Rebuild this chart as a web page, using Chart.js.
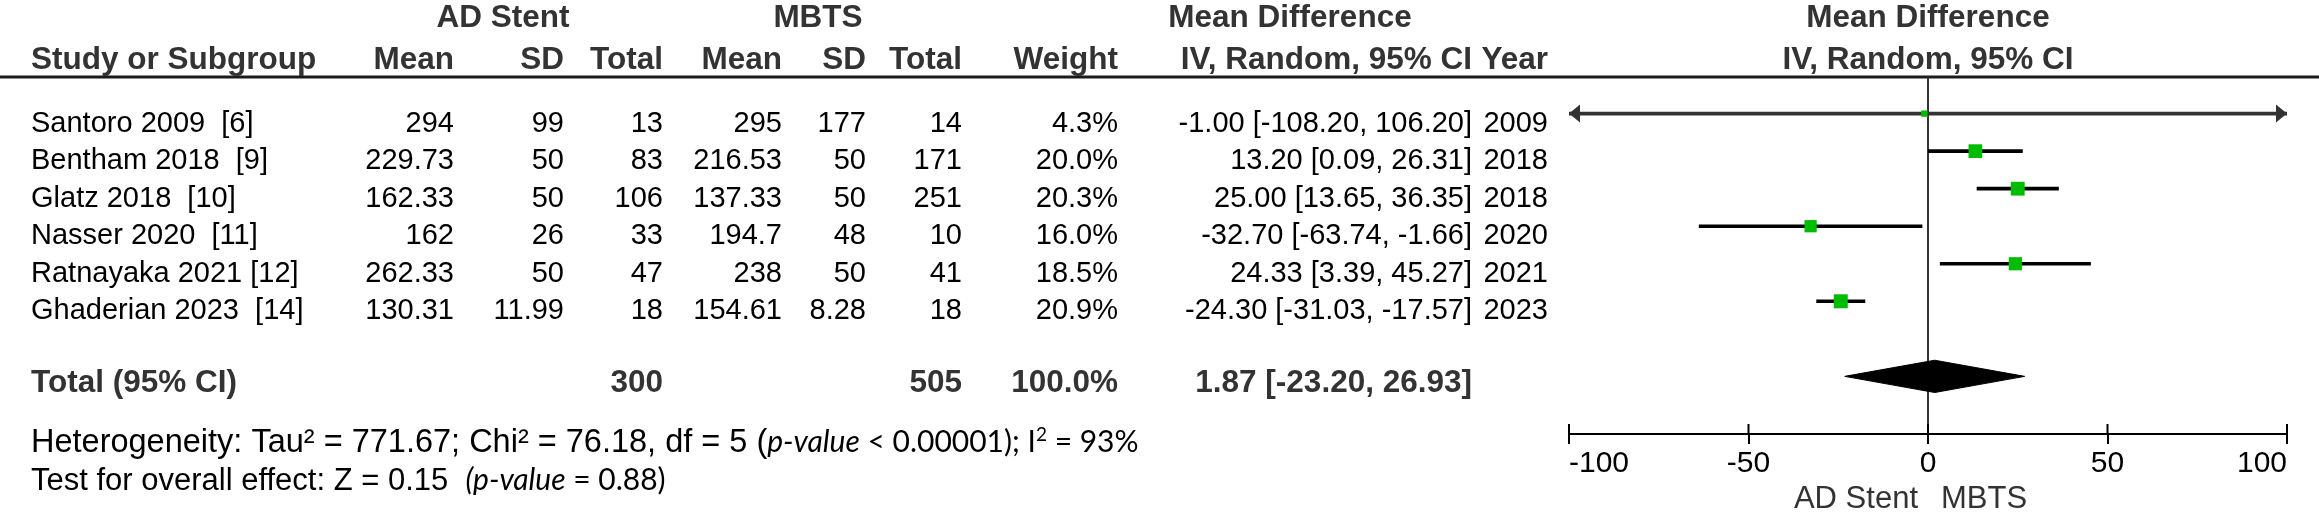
<!DOCTYPE html>
<html><head><meta charset="utf-8">
<script src="https://cdn.jsdelivr.net/npm/chart.js@4.4.1/dist/chart.umd.min.js"></script>
<style>html,body{margin:0;padding:0;background:#fff;overflow:hidden}#wrap{width:2319px;height:513px}</style>
</head><body><div id="wrap"><canvas id="c" width="2319" height="513"></canvas></div>
<script>
// ---------- data ----------
const studies  = ['Santoro 2009  [6]', 'Bentham 2018  [9]', 'Glatz 2018  [10]', 'Nasser 2020  [11]', 'Ratnayaka 2021 [12]', 'Ghaderian 2023  [14]'];
const adMean   = [294, 229.73, 162.33, 162, 262.33, 130.31];
const adSD     = [99, 50, 50, 26, 50, 11.99];
const adTotal  = [13, 83, 106, 33, 47, 18];
const mbMean   = [295, 216.53, 137.33, 194.7, 238, 154.61];
const mbSD     = [177, 50, 50, 48, 50, 8.28];
const mbTotal  = [14, 171, 251, 10, 41, 18];
const weights  = [4.3, 20.0, 20.3, 16.0, 18.5, 20.9];
const md       = [-1.00, 13.20, 25.00, -32.70, 24.33, -24.30];
const ciLow    = [-108.20, 0.09, 13.65, -63.74, 3.39, -31.03];
const ciHigh   = [106.20, 26.31, 36.35, -1.66, 45.27, -17.57];
const years    = [2009, 2018, 2018, 2020, 2021, 2023];
const totalAD = 300, totalMB = 505, totalWeight = 100.0;
const totalMD = 1.87, totalLow = -23.20, totalHigh = 26.93;
const xTicks   = [-100, -50, 0, 50, 100];
const groupA = 'AD Stent', groupB = 'MBTS';
const hetText  = ['Heterogeneity: Tau² = 771.67; Chi² = 76.18, df = 5 (', 'p-value', ' < 0.00001); I', '2', ' = 93%'];
const testText = ['Test for overall effect: Z = 0.15  ', '(p-value', ' = 0.88)'];

// ---------- layout / style ----------
const F = '"Liberation Sans", Arial, sans-serif';
const F2 = 'Lato, "Open Sans", sans-serif';
const HEAD = '#333333';
const COL = {name: 31, adMean: 454, adSD: 564, adTotal: 663, mbMean: 782, mbSD: 866, mbTotal: 962, weight: 1118, ci: 1472, year: 1548};
const TOTAL_ROW = 7;
const rows = studies.map((_, i) => i);
const fmt2 = v => v.toFixed(2);

function txt(ctx, s, x, y, align, font, color) {
  ctx.font = font; ctx.fillStyle = color || '#000'; ctx.textAlign = align; ctx.textBaseline = 'alphabetic';
  ctx.fillText(s, x, y);
}
function rich(ctx, x, y, segs) {
  ctx.textAlign = 'left'; ctx.textBaseline = 'alphabetic';
  for (const s of segs) {
    ctx.font = s.font; ctx.fillStyle = s.color || '#000';
    ctx.fillText(s.t, x, y + (s.dy || 0));
    x += ctx.measureText(s.t).width;
  }
}

const tablePlugin = {
  id: 'table',
  beforeDatasetsDraw(chart) {
    const ctx = chart.ctx, xs = chart.scales.x, ca = chart.chartArea;
    const x0 = xs.getPixelForValue(0);
    ctx.save();
    ctx.strokeStyle = '#1a1a1a'; ctx.lineWidth = 3;
    ctx.beginPath(); ctx.moveTo(0, ca.top); ctx.lineTo(2319, ca.top); ctx.stroke();
    ctx.strokeStyle = '#333'; ctx.lineWidth = 2;
    ctx.beginPath(); ctx.moveTo(x0, ca.top); ctx.lineTo(x0, ca.bottom); ctx.stroke();
    ctx.strokeStyle = '#000';
    xTicks.forEach(v => { const p = xs.getPixelForValue(v); ctx.beginPath(); ctx.moveTo(p, ca.bottom - 10); ctx.lineTo(p, ca.bottom); ctx.stroke(); });
    ctx.restore();
  },
  afterDraw(chart) {
    const ctx = chart.ctx, xs = chart.scales.x, ys = chart.scales.y, ca = chart.chartArea;
    const x0 = xs.getPixelForValue(0);
    const B = 'bold 31.5px ' + F, R = '29px ' + F;
    ctx.save();
    txt(ctx, groupA, 503, 27, 'center', B, HEAD);
    txt(ctx, groupB, 818, 27, 'center', B, HEAD);
    txt(ctx, 'Mean Difference', 1290, 27, 'center', B, HEAD);
    txt(ctx, 'Mean Difference', x0, 27, 'center', B, HEAD);
    const hy = 69;
    txt(ctx, 'Study or Subgroup', COL.name, hy, 'left', B, HEAD);
    txt(ctx, 'Mean', COL.adMean, hy, 'right', B, HEAD);
    txt(ctx, 'SD', COL.adSD, hy, 'right', B, HEAD);
    txt(ctx, 'Total', COL.adTotal, hy, 'right', B, HEAD);
    txt(ctx, 'Mean', COL.mbMean, hy, 'right', B, HEAD);
    txt(ctx, 'SD', COL.mbSD, hy, 'right', B, HEAD);
    txt(ctx, 'Total', COL.mbTotal, hy, 'right', B, HEAD);
    txt(ctx, 'Weight', COL.weight, hy, 'right', B, HEAD);
    txt(ctx, 'IV, Random, 95% CI', COL.ci, hy, 'right', B, HEAD);
    txt(ctx, 'Year', COL.year, hy, 'right', B, HEAD);
    txt(ctx, 'IV, Random, 95% CI', x0, hy, 'center', B, HEAD);
    rows.forEach(i => {
      const y = ys.getPixelForValue(i) + 18;
      txt(ctx, studies[i], COL.name, y, 'left', R);
      txt(ctx, String(adMean[i]), COL.adMean, y, 'right', R);
      txt(ctx, String(adSD[i]), COL.adSD, y, 'right', R);
      txt(ctx, String(adTotal[i]), COL.adTotal, y, 'right', R);
      txt(ctx, String(mbMean[i]), COL.mbMean, y, 'right', R);
      txt(ctx, String(mbSD[i]), COL.mbSD, y, 'right', R);
      txt(ctx, String(mbTotal[i]), COL.mbTotal, y, 'right', R);
      txt(ctx, weights[i].toFixed(1) + '%', COL.weight, y, 'right', R);
      txt(ctx, fmt2(md[i]) + ' [' + fmt2(ciLow[i]) + ', ' + fmt2(ciHigh[i]) + ']', COL.ci, y, 'right', R);
      txt(ctx, String(years[i]), COL.year, y, 'right', R);
    });
    const ty = ys.getPixelForValue(TOTAL_ROW) + 16;
    txt(ctx, 'Total (95% CI)', COL.name, ty, 'left', B, HEAD);
    txt(ctx, String(totalAD), COL.adTotal, ty, 'right', B, HEAD);
    txt(ctx, String(totalMB), COL.mbTotal, ty, 'right', B, HEAD);
    txt(ctx, totalWeight.toFixed(1) + '%', COL.weight, ty, 'right', B, HEAD);
    txt(ctx, fmt2(totalMD) + ' [' + fmt2(totalLow) + ', ' + fmt2(totalHigh) + ']', COL.ci, ty, 'right', B, HEAD);
    rich(ctx, COL.name, 452, [
      {t: hetText[0], font: '32.5px ' + F},
      {t: hetText[1], font: 'italic 30px ' + F2},
      {t: hetText[2], font: '30px ' + F2},
      {t: hetText[3], font: '19px ' + F2, dy: -11},
      {t: hetText[4], font: '30px ' + F2}
    ]);
    rich(ctx, COL.name, 490, [
      {t: testText[0], font: '31px ' + F},
      {t: testText[1], font: 'italic 30px ' + F2},
      {t: testText[2], font: '30px ' + F2}
    ]);
    txt(ctx, groupA, x0 - 10, 508, 'right', '31px ' + F, HEAD);
    txt(ctx, groupB, x0 + 13, 508, 'left', '31px ' + F, HEAD);
    ctx.fillStyle = '#333';
    rows.forEach(i => {
      const y = ys.getPixelForValue(i);
      if (ciLow[i] < xs.min) { ctx.beginPath(); ctx.moveTo(ca.left, y); ctx.lineTo(ca.left + 11, y - 9); ctx.lineTo(ca.left + 11, y + 9); ctx.closePath(); ctx.fill(); }
      if (ciHigh[i] > xs.max) { ctx.beginPath(); ctx.moveTo(ca.right, y); ctx.lineTo(ca.right - 11, y - 9); ctx.lineTo(ca.right - 11, y + 9); ctx.closePath(); ctx.fill(); }
    });
    ctx.restore();
  }
};

const DH = 0.43;
new Chart(document.getElementById('c'), {
  type: 'scatter',
  data: {
    datasets: [
      {
        type: 'scatter', label: 'Mean difference', order: 1,
        data: rows.map(i => ({x: md[i], y: i})),
        pointStyle: 'rect',
        pointRadius: c => 9.9 * Math.sqrt(weights[c.dataIndex] / 20.9),
        pointBackgroundColor: '#00BC00', pointBorderWidth: 0, pointBorderColor: '#00BC00'
      },
      {
        type: 'bar', label: '95% CI', indexAxis: 'y', order: 2,
        data: rows.map(i => ({y: i, x: [ciLow[i], ciHigh[i]]})),
        backgroundColor: c => (ciLow[c.dataIndex] < -100 || ciHigh[c.dataIndex] > 100) ? '#333' : '#000',
        barThickness: 3, borderWidth: 0
      },
      {
        type: 'line', label: 'Total', order: 0,
        data: [
          {x: totalLow, y: TOTAL_ROW}, {x: totalMD, y: TOTAL_ROW - DH},
          {x: totalHigh, y: TOTAL_ROW}, {x: totalMD, y: TOTAL_ROW + DH}, {x: totalLow, y: TOTAL_ROW}
        ],
        showLine: true, fill: 'shape', tension: 0, pointRadius: 0,
        borderColor: '#000', backgroundColor: '#000', borderWidth: 1
      }
    ]
  },
  options: {
    responsive: false, animation: false, devicePixelRatio: 1,
    layout: {padding: {left: 1569, right: 32, top: 77, bottom: 0}},
    plugins: {legend: {display: false}, tooltip: {enabled: false}},
    scales: {
      x: {
        type: 'linear', min: -100, max: 100,
        afterBuildTicks: s => { s.ticks = xTicks.map(v => ({value: v})); },
        afterFit: s => { s.height = 79; },
        ticks: {align: 'inner', font: {family: F, size: 30}, color: '#000', padding: 2, maxRotation: 0, autoSkip: false},
        grid: {drawOnChartArea: false, drawTicks: true, tickLength: 10, color: '#000', lineWidth: 2},
        border: {display: true, color: '#000', width: 2}
      },
      y: {type: 'linear', reverse: true, min: -0.5, max: 8.06, display: false}
    }
  },
  plugins: [tablePlugin]
});
</script>
</body></html>
